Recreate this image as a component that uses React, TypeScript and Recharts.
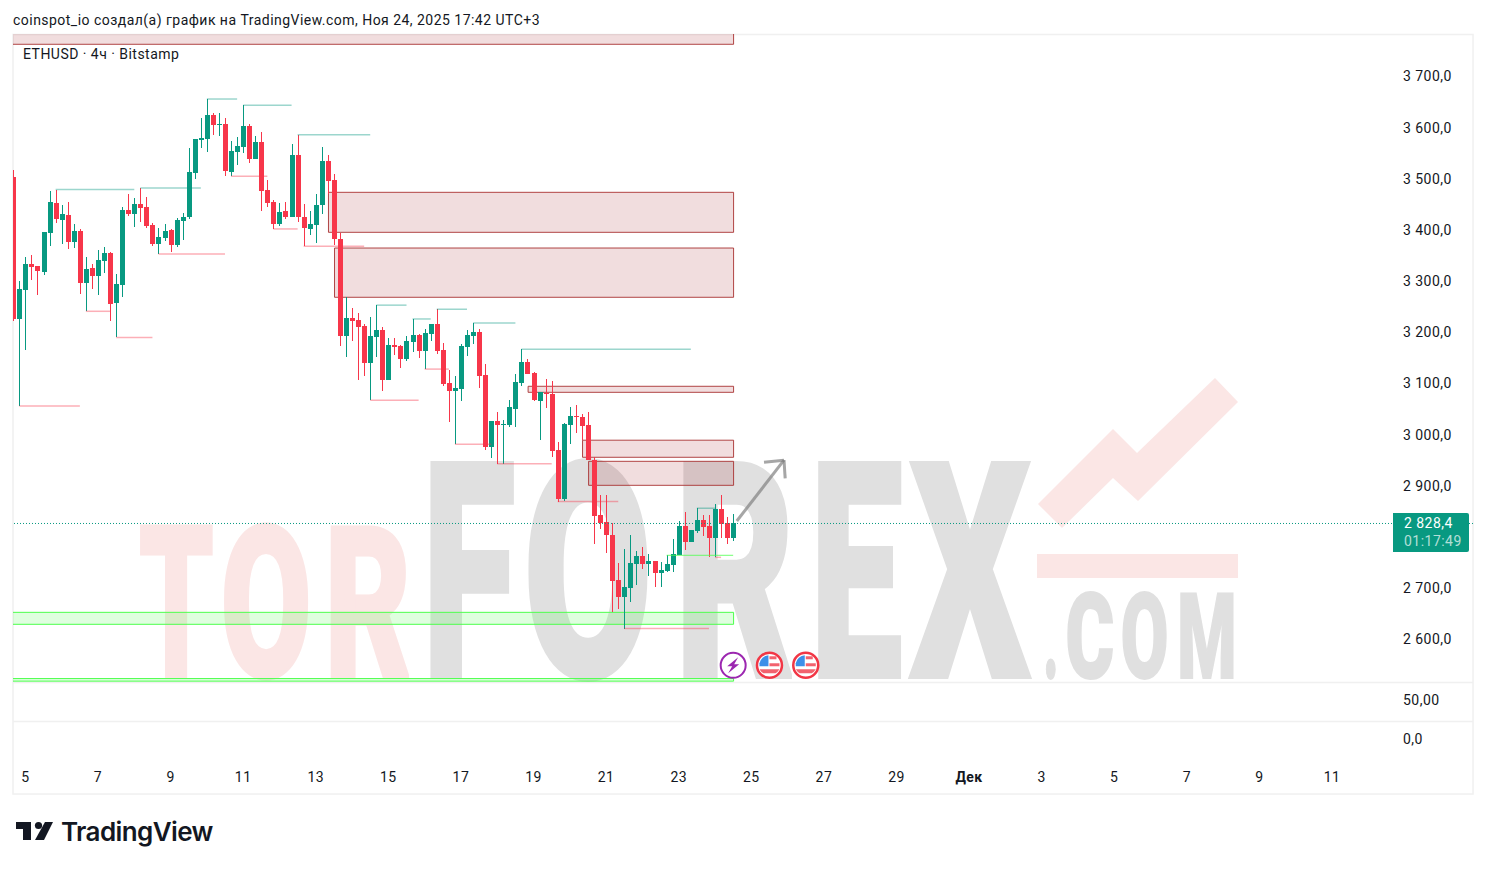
import { Bar, ComposedChart, ReferenceArea, ReferenceDot, ReferenceLine, XAxis, YAxis } from "recharts";

const UP = "#089981";
const DOWN = "#F7364A";
const TEXT = "#131722";
const FONT = "Roboto, sans-serif";
const TRACK = 0.47;

const opens = [3502, 3225, 3281, 3332, 3328, 3317, 3393, 3451, 3418, 3428, 3375, 3397, 3295, 3324, 3309, 3338, 3354, 3256, 3291, 3438, 3430, 3450, 3444, 3408, 3371, 3383, 3399, 3369, 3416, 3424, 3510, 3575, 3577, 3624, 3604, 3606, 3512, 3551, 3561, 3602, 3538, 3571, 3477, 3454, 3411, 3436, 3424, 3545, 3424, 3401, 3408, 3447, 3534, 3496, 3381, 3191, 3227, 3223, 3211, 3139, 3190, 3203, 3105, 3174, 3172, 3147, 3180, 3194, 3162, 3196, 3215, 3164, 3100, 3084, 3088, 3170, 3192, 3199, 3115, 2974, 3025, 3018, 3018, 3049, 3100, 3141, 3119, 3065, 3080, 3078, 2969, 2873, 3017, 3035, 3033, 3018, 2949, 2842, 2828, 2802, 2714, 2681, 2699, 2746, 2761, 2746, 2752, 2728, 2732, 2744, 2763, 2820, 2789, 2810, 2832, 2820, 2797, 2853, 2826, 2797];
const highs = [3516, 3299, 3346, 3350, 3328, 3395, 3475, 3477, 3448, 3453, 3410, 3401, 3346, 3332, 3360, 3365, 3356, 3313, 3444, 3469, 3461, 3481, 3463, 3412, 3403, 3410, 3401, 3422, 3432, 3559, 3577, 3618, 3655, 3628, 3628, 3618, 3573, 3581, 3643, 3606, 3583, 3590, 3497, 3457, 3452, 3453, 3567, 3585, 3450, 3436, 3469, 3561, 3545, 3508, 3393, 3268, 3246, 3237, 3215, 3229, 3252, 3209, 3188, 3188, 3174, 3192, 3225, 3196, 3205, 3215, 3244, 3178, 3125, 3113, 3176, 3203, 3217, 3205, 3137, 3025, 3043, 3027, 3066, 3117, 3166, 3147, 3121, 3082, 3108, 3104, 2984, 3021, 3053, 3057, 3039, 3043, 2955, 2881, 2881, 2826, 2748, 2775, 2802, 2771, 2779, 2765, 2752, 2750, 2763, 2795, 2830, 2847, 2812, 2855, 2842, 2842, 2863, 2881, 2838, 2844];
const lows = [3222, 3055, 3164, 3301, 3272, 3311, 3367, 3412, 3371, 3362, 3363, 3273, 3240, 3283, 3272, 3315, 3221, 3189, 3268, 3426, 3405, 3414, 3403, 3367, 3352, 3377, 3356, 3365, 3379, 3420, 3498, 3559, 3551, 3585, 3583, 3504, 3504, 3526, 3549, 3530, 3538, 3436, 3444, 3401, 3407, 3420, 3424, 3414, 3367, 3389, 3373, 3430, 3470, 3370, 3172, 3150, 3182, 3105, 3113, 3066, 3150, 3084, 3105, 3154, 3129, 3143, 3160, 3149, 3127, 3182, 3156, 3094, 3023, 2980, 3064, 3152, 3176, 3090, 2969, 2953, 2941, 2941, 3014, 3014, 3094, 3117, 3065, 2988, 3051, 2955, 2867, 2869, 2980, 3002, 2988, 2949, 2785, 2814, 2767, 2652, 2658, 2619, 2671, 2705, 2736, 2722, 2701, 2701, 2730, 2730, 2763, 2773, 2789, 2806, 2801, 2759, 2759, 2797, 2785, 2791];
const closes = [3225, 3283, 3332, 3326, 3318, 3395, 3453, 3420, 3430, 3375, 3397, 3295, 3322, 3309, 3340, 3354, 3254, 3293, 3438, 3430, 3450, 3442, 3407, 3371, 3385, 3397, 3369, 3418, 3424, 3512, 3577, 3579, 3624, 3604, 3606, 3514, 3553, 3563, 3602, 3538, 3571, 3475, 3452, 3411, 3434, 3424, 3545, 3424, 3403, 3410, 3447, 3534, 3495, 3381, 3191, 3227, 3221, 3209, 3139, 3192, 3203, 3105, 3174, 3170, 3147, 3182, 3194, 3162, 3197, 3215, 3162, 3098, 3084, 3090, 3172, 3194, 3199, 3113, 2974, 3025, 3018, 3020, 3053, 3102, 3141, 3117, 3067, 3082, 3078, 2967, 2873, 3019, 3035, 3033, 3016, 2949, 2840, 2826, 2802, 2712, 2681, 2701, 2748, 2761, 2746, 2752, 2728, 2734, 2746, 2765, 2820, 2789, 2812, 2832, 2818, 2797, 2853, 2824, 2797, 2825.5];

const priceTicks = [3700, 3600, 3500, 3400, 3300, 3200, 3100, 3000, 2900, 2700, 2600];
const priceLabels = ["3 700,0", "3 600,0", "3 500,0", "3 400,0", "3 300,0", "3 200,0", "3 100,0", "3 000,0", "2 900,0", "2 700,0", "2 600,0"];
const timeTicks = [2, 14, 26, 38, 50, 62, 74, 86, 98, 110, 122, 134, 146, 158, 170, 182, 194, 206, 218];
const timeLabels = ["5", "7", "9", "11", "13", "15", "17", "19", "21", "23", "25", "27", "29", "Дек", "3", "5", "7", "9", "11"];

// [first bar, last bar, top price, bottom price]
const supplyZones = [
    [-2, 119.07, 3800, 3762],
    [52.1, 119.07, 3472.6, 3394.4],
    [53.1, 119.07, 3363.7, 3267.4],
    [85.1, 119.07, 3093.4, 3081.6],
    [94.1, 119.07, 2988, 2954.6],
    [95.1, 119.07, 2946.7, 2899.8],
];
const demandZones = [
    [-2, 119.07, 2651.5, 2628.1],
    [-2, 119.07, 2522, 2517],
];
// [first bar, last bar, price]
const highLevels = [
    [7, 20, 3478], [21, 31, 3481], [32, 37, 3655], [38, 46, 3643], [47, 59, 3585], [60, 65, 3252],
    [66, 69, 3225], [70, 75, 3244], [76, 83, 3217], [84, 112, 3166], [113, 116, 2855],
];
const lowLevels = [
    [1, 11, 3055], [12, 16, 3240], [17, 23, 3189], [24, 35, 3352], [36, 42, 3504], [43, 47, 3401],
    [48, 58, 3367], [59, 67, 3066], [68, 72, 3127], [73, 79, 2980], [80, 89, 2942], [90, 100, 2868],
    [101, 115, 2620], [116, 117, 2759],
];
const greenLevels = [[108, 119, 2763]];
const arrowSegments = [
    [119.6, 2830, 127.4, 2949],
    [124.1, 2944.8, 127.4, 2949],
    [127.6, 2913.5, 127.4, 2949],
];
const eventBars = [119, 125, 131];
const eventPrice = 2548;
const lastPriceLevel = 2825.2;

const candles = opens.map((open, i) => ({
    bar: i,
    open,
    close: closes[i],
    high: highs[i],
    low: lows[i],
    range: [lows[i], highs[i]],
}));

// [text, left, width]
const torLetters: [string, number, number][] = [["T", 141, 71], ["O", 223, 86], ["R", 327, 82]];
const forexLetters: [string, number, number][] = [["F", 425, 88], ["O", 527, 122], ["R", 678, 114], ["E", 813, 87], ["X", 913, 114]];
const comLetters: [string, number, number][] = [[".", 1044, 14], ["C", 1067, 46], ["O", 1122, 45], ["M", 1179, 56]];

const Candle = (props: any) => {
    const { x, y, width, height, payload } = props;
    const top = Math.min(y, y + height);
    const span = Math.abs(height);
    const perUnit = span / (payload.high - payload.low);
    const bodyTop = top + (payload.high - Math.max(payload.open, payload.close)) * perUnit;
    const bodyH = Math.max(Math.abs(payload.open - payload.close) * perUnit, 1);
    const cx = Math.floor(x + width / 2);
    const color = payload.close >= payload.open ? UP : DOWN;
    return (
        <g shapeRendering="crispEdges">
            <rect x={cx} y={top} width={1} height={span} fill={color} />
            <rect x={cx - 2} y={bodyTop} width={5} height={bodyH} fill={color} />
        </g>
    );
};

const PriceTick = ({ y, index }: any) => (
    <text x={1403} y={y + 5.5} fontSize={14} letterSpacing={TRACK} fontFamily={FONT} fill={TEXT}>
        {priceLabels[index]}
    </text>
);

const TimeTick = ({ x, index }: any) => (
    <text
        x={x}
        y={782}
        textAnchor="middle"
        fontSize={14}
        letterSpacing={TRACK}
        fontFamily={FONT}
        fontWeight={timeLabels[index] === "Дек" ? 700 : 400}
        fill={TEXT}
    >
        {timeLabels[index]}
    </text>
);

const EventIcon = ({ cx, cy, index }: any) => {
    if (index === 0) {
        return (
            <g>
                <circle cx={cx} cy={cy} r={12.5} fill="#fff" stroke="#9C27B0" strokeWidth={2} />
                <path d={`M${cx + 5} ${cy - 8}L${cx - 6} ${cy + 1}H${cx - 1}L${cx - 5} ${cy + 8}L${cx + 6} ${cy - 1}H${cx + 1}Z`} fill="#9C27B0" />
            </g>
        );
    }
    return (
        <g>
            <circle cx={cx} cy={cy} r={12.5} fill="#fff" stroke="#F23645" strokeWidth={2.5} />
            <path d={`M${cx - 10} ${cy - 2}A10 10 0 0 1 ${cx - 1} ${cy - 10}V${cy + 1}H${cx - 10}Z`} fill="#3D8FE8" />
            <rect x={cx} y={cy - 9} width={7} height={3} fill="#F2626E" />
            <rect x={cx} y={cy - 2} width={10} height={3} fill="#F2626E" />
            <path d={`M${cx - 10} ${cy + 4}H${cx + 10}A10 10 0 0 1 ${cx + 6} ${cy + 8}H${cx - 6}A10 10 0 0 1 ${cx - 10} ${cy + 4}Z`} fill="#F2626E" />
        </g>
    );
};

const WaterLetters = ({ letters, size, base, fill, thick }: any) =>
    letters.map(([ch, left, w]: [string, number, number], i: number) => (
        <text
            key={i}
            x={left - w * 0.03}
            y={base}
            fontSize={size}
            fill={fill}
            stroke={fill}
            strokeWidth={thick}
            textLength={w * 1.06}
            lengthAdjust="spacingAndGlyphs"
        >
            {ch}
        </text>
    ));

const Watermark = () => (
    <svg width={1487} height={869} style={{ position: "absolute", left: 0, top: 0 }}>
        <g fontFamily="Roboto, sans-serif" fontWeight={900}>
            <WaterLetters letters={torLetters} size={212} base={677} fill="#FBE6E5" thick={3} />
            <WaterLetters letters={forexLetters} size={301} base={677} fill="#E0E0E0" thick={4} />
            <WaterLetters letters={comLetters} size={118} base={677.5} fill="#E0E0E0" thick={2} />
        </g>
        <polygon points="1038,504 1113,429 1137,453 1215,378 1238,402 1138,501 1113,478 1062,528" fill="#FBE6E5" />
        <rect x={1037} y={554} width={201} height={24} fill="#FBE6E5" />
    </svg>
);

const Frame = () => (
    <svg width={1487} height={869} style={{ position: "absolute", left: 0, top: 0 }}>
        <g fill="none" stroke="#F0F0F0" strokeWidth={1.5}>
            <rect x={13} y={34.5} width={1460} height={759.5} />
            <path d="M13 682.5H1473M13 721.5H1473" />
        </g>
    </svg>
);

const Overlay = () => (
    <svg width={1487} height={869} style={{ position: "absolute", left: 0, top: 0 }}>
        <g fontFamily={FONT} fontSize={14} fill={TEXT} letterSpacing={TRACK}>
            <text x={13} y={25}>coinspot_io создал(а) график на TradingView.com, Ноя 24, 2025 17:42 UTC+3</text>
            <text x={23} y={59}>ETHUSD · 4ч · Bitstamp</text>
            <text x={1403} y={705}>50,00</text>
            <text x={1403} y={744}>0,0</text>
        </g>
        <path d="M1393 513H1467a2 2 0 0 1 2 2V550a2 2 0 0 1 -2 2H1393Z" fill={UP} />
        <text x={1404} y={528} fontFamily={FONT} fontSize={14} letterSpacing={TRACK} fill="#fff">2 828,4</text>
        <text x={1404} y={546} fontFamily={FONT} fontSize={14} letterSpacing={TRACK} fill="#fff" fillOpacity={0.7}>01:17:49</text>
        <g fill="#131722">
            <path d="M16 822H31V840H23V829H16Z" />
            <circle cx={38.5} cy={825.5} r={3.6} />
            <path d="M45 822H53L44 840H35Z" />
        </g>
        <text x={61} y={841} fontFamily="Inter, sans-serif" fontSize={26} fontWeight={600} letterSpacing={-0.6} fill="#131722">TradingView</text>
    </svg>
);

export default function App() {
    return (
        <div style={{ position: "absolute", left: 0, top: 0, width: 1487, height: 869, background: "#fff", overflow: "hidden" }}>
            <Watermark />
            <Frame />
            <div style={{ position: "absolute", left: 0, top: 0 }}>
                <ComposedChart
                    width={1487}
                    height={869}
                    data={candles}
                    margin={{ top: 34, right: 14, bottom: 157, left: 13 }}
                    barCategoryGap={0}
                >
                    <XAxis
                        dataKey="bar"
                        type="number"
                        domain={[-0.05, 241.3]}
                        allowDataOverflow
                        ticks={timeTicks}
                        interval={0}
                        height={30}
                        axisLine={false}
                        tickLine={false}
                        tick={<TimeTick />}
                    />
                    <YAxis
                        orientation="right"
                        mirror
                        domain={[2515.3, 3782.1]}
                        allowDataOverflow
                        ticks={priceTicks}
                        interval={0}
                        axisLine={false}
                        tickLine={false}
                        tick={<PriceTick />}
                    />
                    {supplyZones.map(([x1, x2, y1, y2], i) => (
                        <ReferenceArea key={`s${i}`} x1={x1} x2={x2} y1={y1} y2={y2} ifOverflow="hidden" fill="#A01C24" fillOpacity={0.15} stroke="#A83232" strokeOpacity={0.9} />
                    ))}
                    {demandZones.map(([x1, x2, y1, y2], i) => (
                        <ReferenceArea key={`d${i}`} x1={x1} x2={x2} y1={y1} y2={y2} ifOverflow="hidden" fill="#4CFF4C" fillOpacity={0.18} stroke="#4CFF4C" strokeOpacity={1} />
                    ))}
                    {highLevels.map(([a, b, p], i) => (
                        <ReferenceLine key={`h${i}`} segment={[{ x: a, y: p }, { x: b, y: p }]} stroke={UP} strokeOpacity={0.4} strokeWidth={1.5} />
                    ))}
                    {lowLevels.map(([a, b, p], i) => (
                        <ReferenceLine key={`l${i}`} segment={[{ x: a, y: p }, { x: b, y: p }]} stroke={DOWN} strokeOpacity={0.4} strokeWidth={1.5} />
                    ))}
                    {greenLevels.map(([a, b, p], i) => (
                        <ReferenceLine key={`g${i}`} segment={[{ x: a, y: p }, { x: b, y: p }]} stroke="#4CFF4C" strokeOpacity={0.8} />
                    ))}
                    <ReferenceLine y={lastPriceLevel} stroke={UP} strokeDasharray="1 2" />
                    <Bar dataKey="range" barSize={5} shape={<Candle />} isAnimationActive={false} />
                    {arrowSegments.map(([a, p, b, q], i) => (
                        <ReferenceLine key={`a${i}`} segment={[{ x: a, y: p }, { x: b, y: q }]} stroke="#808080" strokeOpacity={0.7} strokeWidth={3} />
                    ))}
                    {eventBars.map((bar, i) => (
                        <ReferenceDot key={`e${i}`} x={bar} y={eventPrice} shape={(p: any) => <EventIcon cx={p.cx} cy={p.cy} index={i} />} />
                    ))}
                </ComposedChart>
            </div>
            <Overlay />
        </div>
    );
}
